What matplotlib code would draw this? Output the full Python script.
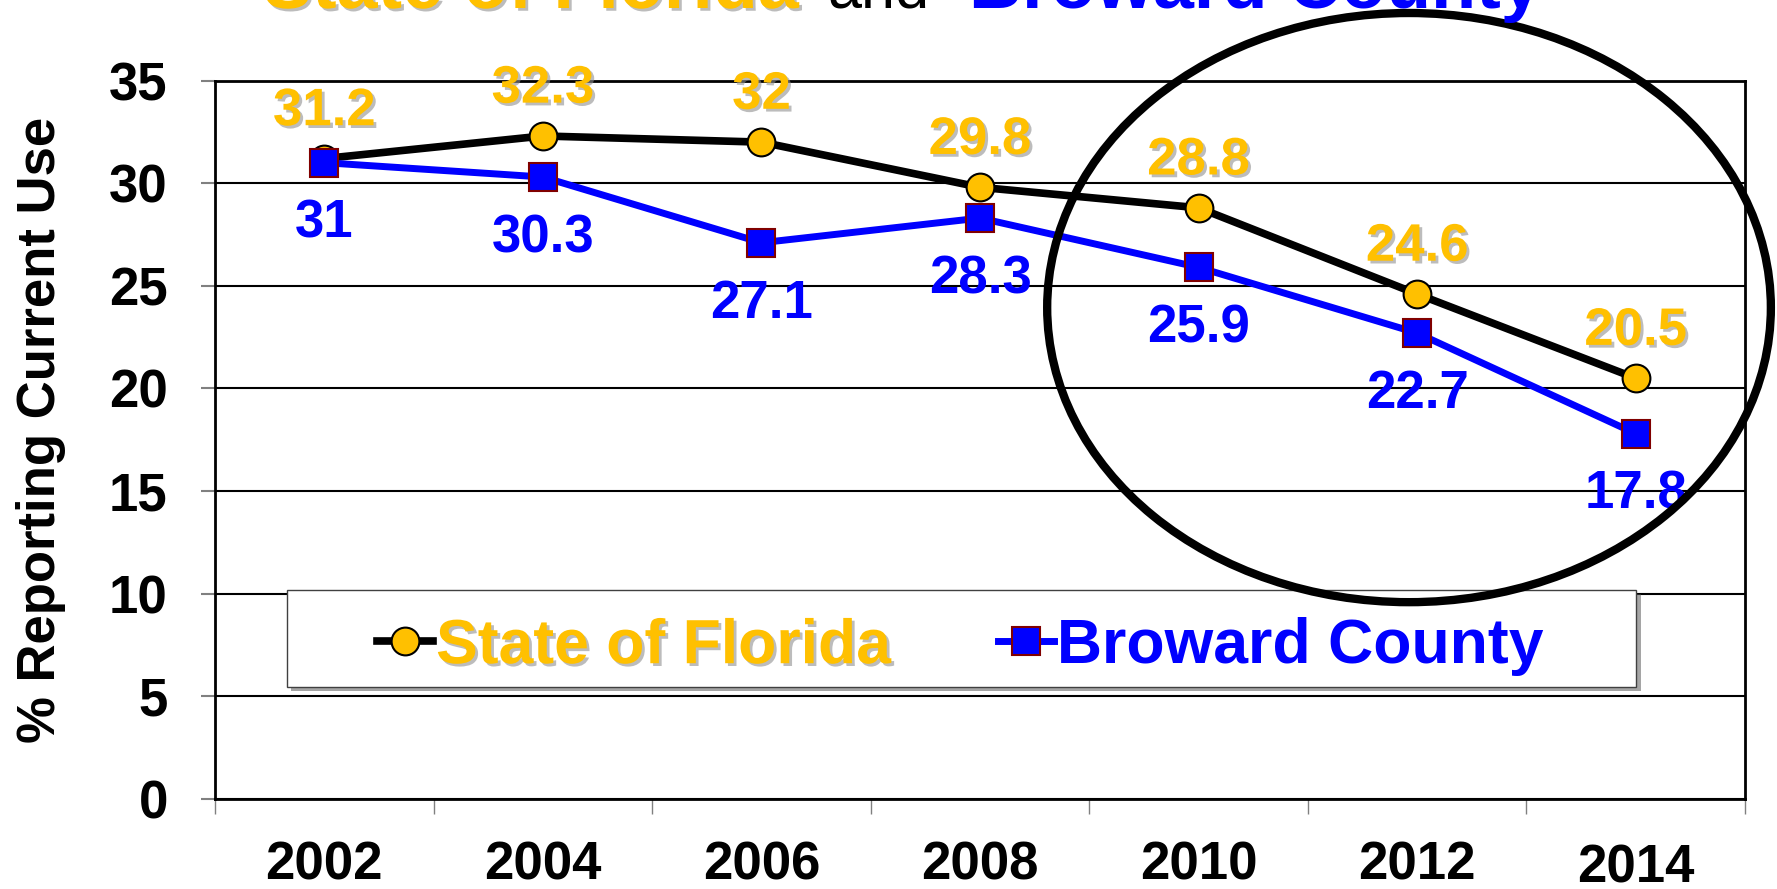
import matplotlib
matplotlib.use('Agg')
import matplotlib.pyplot as plt
import matplotlib.patheffects as pe
from matplotlib.patches import Ellipse, Rectangle
from matplotlib.transforms import ScaledTranslation

#survey years and percent reporting current use
years = ['2002', '2004', '2006', '2008', '2010', '2012', '2014']
florida = [31.2, 32.3, 32.0, 29.8, 28.8, 24.6, 20.5]
broward = [31.0, 30.3, 27.1, 28.3, 25.9, 22.7, 17.8]
yticks = [0, 5, 10, 15, 20, 25, 30, 35]

gold = '#FFC000'
plt.rcParams['font.family'] = ['Liberation Sans', 'DejaVu Sans']
plt.rcParams['font.weight'] = 'bold'

#gray drop shadow like the powerpoint text
shadow = [pe.SimplePatchShadow(offset=(2, -2), shadow_rgbFace='#909090', alpha=0.6), pe.Normal()]

fig = plt.figure(figsize=(17.77, 8.89), dpi=100)
ax = fig.add_axes([0.121, 0.1012, 0.861, 0.8082])

x = list(range(len(years)))
ax.plot(x, florida, color='black', lw=5.5, marker='o', ms=20, mfc=gold, mec='black', mew=1.5,
        label='State of Florida', zorder=4)
ax.plot(x, broward, color='blue', lw=5, marker='s', ms=20, mfc='blue', mec='#800000', mew=1.5,
        label='Broward County', zorder=5)

#data labels, florida above and broward below
for i, v in enumerate(florida):
    ax.annotate(f'{v:g}', (i, v), xytext=(0, 24), textcoords='offset points', ha='center',
                va='baseline', fontsize=38, color=gold, path_effects=shadow, zorder=8)
for i, v in enumerate(broward):
    ax.annotate(f'{v:g}', (i, v), xytext=(0, -54), textcoords='offset points', ha='center',
                va='baseline', fontsize=38, color='blue', zorder=8)

#axes
ax.set_ylim(0, 35)
ax.set_yticks(yticks)
ax.set_xlim(-0.5, len(years) - 0.5)
ax.set_xticks(x)
ax.set_xticklabels(years)
ax.set_xticks([i - 0.5 for i in range(len(years) + 1)], minor=True)
ax.tick_params(axis='y', labelsize=38, length=10, width=1.5, color='gray', pad=24)
ax.tick_params(axis='x', which='major', labelsize=38, length=0, pad=30)
ax.tick_params(axis='x', which='minor', length=11, width=1, color='gray')
ax.yaxis.grid(True, color='black', lw=1.5)
ax.set_axisbelow(True)
for s in ax.spines.values():
    s.set_linewidth(2)

#2014 label sits a bit lower in the original
lab = ax.get_xticklabels()[-1]
lab.set_transform(lab.get_transform() + ScaledTranslation(0, -3 / 100, fig.dpi_scale_trans))

ax.set_ylabel('% Reporting Current Use', fontsize=38, fontweight='bold', va='center')
ax.yaxis.set_label_coords(-0.1137, 0.5136)

#legend in a box with shadow
box = Rectangle((0.047, 0.156), 0.882, 0.135, transform=ax.transAxes, fc='white', ec='#404040',
                lw=1, zorder=6,
                path_effects=[pe.SimplePatchShadow(offset=(3, -3), alpha=0.5), pe.Normal()])
ax.add_patch(box)
leg = ax.legend(loc='center', bbox_to_anchor=(0.487, 0.212), ncol=2, frameon=False, fontsize=45,
                handlelength=0.9, handletextpad=0.05, columnspacing=1.7, borderpad=0)
leg.set_zorder(7)
t1, t2 = leg.get_texts()
t1.set_color(gold)
t1.set_path_effects(shadow)
t2.set_color('blue')

#circle around the recent years
ring = Ellipse((0.7804, 0.684), 0.473, 0.820, transform=ax.transAxes, fill=False, ec='black',
               lw=6, clip_on=False, zorder=10)
ax.add_patch(ring)

#title, mostly cut off at the top
ty = 1 - 8 / 889
fig.text(263 / 1777, ty, 'State of Florida', fontsize=53, color=gold, va='baseline', path_effects=shadow)
fig.text(827 / 1777, ty, 'and', fontsize=44, weight='normal', color='black', va='baseline')
fig.text(969 / 1777, ty, 'Broward County', fontsize=53, color='blue', va='baseline')

fig.savefig('out.png', dpi=100)
